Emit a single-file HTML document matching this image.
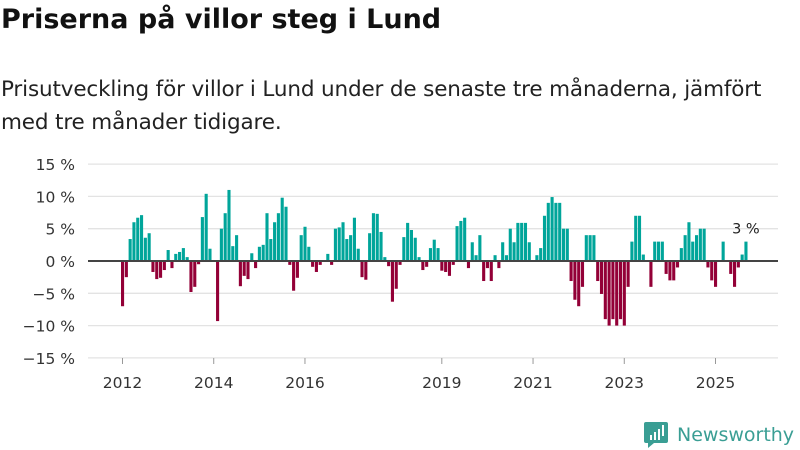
<!DOCTYPE html>
<html><head><meta charset="utf-8">
<style>
body{margin:0;background:#fff;width:800px;height:450px;overflow:hidden;font-family:"DejaVu Sans","Liberation Sans",sans-serif;}
.title{position:absolute;left:1px;top:4px;font-size:27px;font-weight:bold;color:#111;letter-spacing:0px}
.sub{position:absolute;left:1px;top:73px;font-size:21.5px;line-height:33px;color:#222;width:798px;letter-spacing:-0.15px;white-space:nowrap}
svg{position:absolute;left:0;top:0}
</style></head>
<body>
<div class="title">Priserna på villor steg i Lund</div>
<div class="sub">Prisutveckling för villor i Lund under de senaste tre månaderna, jämfört<br>med tre månader tidigare.</div>
<svg width="800" height="450" id="chart" font-family="DejaVu Sans, Liberation Sans, sans-serif"></svg>
<script>
const values = [
-7,-2.5,3.4,6,6.7,7.1,3.6,4.3,-1.7,-2.8,-2.6,-1.4,
1.7,-1.1,1.1,1.4,2,0.6,-4.8,-4,-0.5,6.8,10.4,1.9,
0,-9.3,5,7.4,11,2.3,4,-3.9,-2.3,-2.8,1.2,-1.1,
2.2,2.5,7.4,3.4,6,7.4,9.8,8.4,-0.6,-4.6,-2.6,4,
5.3,2.2,-0.9,-1.7,-0.6,0,1.1,-0.6,5,5.2,6,3.4,
4,6.7,1.9,-2.5,-2.9,4.3,7.4,7.3,4.5,0.6,-0.8,-6.3,
-4.3,-0.6,3.7,5.9,4.8,3.6,0.6,-1.4,-0.9,2,3.3,2,
-1.5,-1.7,-2.3,-0.6,5.4,6.2,6.7,-1.1,2.9,0.9,4,-3.1,
-1.1,-3.1,0.9,-1.1,2.9,0.9,5,2.9,5.9,5.9,5.9,2.9,
0,0.9,2,7,9,9.9,9,9,5,5,-3.1,-6,
-7,-4,4,4,4,-3.1,-5.1,-9,-10,-9,-10,-9,
-10,-4,3,7,7,1,0,-4,3,3,3,-2,
-3,-3,-1,2,4,6,3,4,5,5,-1,-3,
-4,0,3,0,-2,-4,-1,1,3
];
const startYear = 2012;
const yTicks = [15,10,5,0,-5,-10,-15];
const xTickYears = [2012,2014,2016,2019,2021,2023,2025];
const lastLabel = "3 %";

const svg = document.getElementById('chart');
const NS = 'http://www.w3.org/2000/svg';
const y = v => 261 - v * 6.46;
const x = i => 121 + i * (714 - 121) / 156;
function mk(t, a){const e=document.createElementNS(NS,t);for(const k in a)e.setAttribute(k,a[k]);svg.appendChild(e);return e;}

yTicks.forEach(t=>{
  const g = mk('line',{x1:88,x2:778,y1:y(t),y2:y(t),stroke:'#e3e3e3','stroke-width':1.3});
  
  
  const tx = mk('text',{x:75,y:y(t)+6,'text-anchor':'end','font-size':15.5,fill:'#333'});
  tx.textContent = (t<0?'\u2212'+(-t):t) + ' %';
  
  
});
xTickYears.forEach(yr=>{
  const i = (yr - startYear) * 12;
  const tk = mk('line',{x1:x(i)+1.5,x2:x(i)+1.5,y1:358,y2:364,stroke:'#999','stroke-width':1});
  
  
  const tx = mk('text',{x:x(i)+1.5,y:388,'text-anchor':'middle','font-size':15.5,fill:'#333'});
  tx.textContent = yr;
  
  
});
values.forEach((v,i)=>{
  if(v===0) return;
  const top = Math.min(y(v), y(0)), h = Math.abs(y(v)-y(0));
  const b = mk('rect',{x:x(i),y:top,width:3.1,height:h,fill: v>0?'#00a59a':'#930037'});
  
  
});
const zl = mk('line',{x1:88,x2:778,y1:y(0),y2:y(0),stroke:'#444','stroke-width':2});


const li = values.length-1;
const lb = mk('text',{x:x(li)+1.5,y:y(values[li])-8,'text-anchor':'middle','font-size':14.5,fill:'#222'});
lb.textContent = lastLabel;



const lg = mk('g',{});


const box = document.createElementNS(NS,'path');
box.setAttribute('d','M646 422 h20 a2 2 0 0 1 2 2 v17 a2 2 0 0 1 -2 2 h-12 l-6 5 v-5 h-2 a2 2 0 0 1 -2 -2 v-17 a2 2 0 0 1 2 -2z');
box.setAttribute('fill','#3a9e94');
lg.appendChild(box);
[[650,435,2,5],[654,432,2,8],[658,429,2,11],[662,425,2,11]].forEach(r=>{
  const e=document.createElementNS(NS,'rect');
  e.setAttribute('x',r[0]);e.setAttribute('y',r[1]);e.setAttribute('width',r[2]);e.setAttribute('height',r[3]);e.setAttribute('fill','#fff');lg.appendChild(e);
});
const lt = document.createElementNS(NS,'text');
lt.setAttribute('x',677);lt.setAttribute('y',441);lt.setAttribute('font-size',19);lt.setAttribute('fill','#3a9e94');
lt.setAttribute('font-family','DejaVu Sans, sans-serif');
lt.textContent='Newsworthy';
lg.appendChild(lt);
</script>
</body></html>
